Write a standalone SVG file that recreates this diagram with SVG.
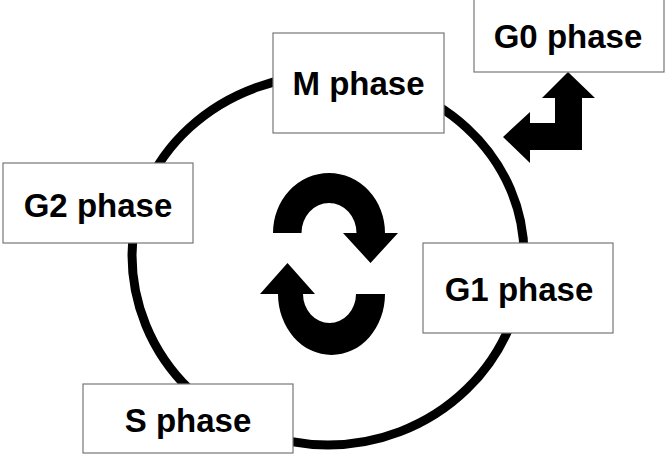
<svg xmlns="http://www.w3.org/2000/svg" width="667" height="458" viewBox="0 0 667 458">
<style>
.box{fill:#fff;stroke:#777;stroke-width:1.2}
.lbl{font-family:"Liberation Sans",Arial,Helvetica,sans-serif;font-weight:bold;font-size:33px;fill:#000;text-anchor:middle}
.ring{fill:none;stroke:#000;stroke-width:9}
.solid{fill:#000;stroke:none}
</style>
<rect width="667" height="458" fill="#fff"/>
<g id="connectors">
<path class="ring" d="M 132,255 A 196,180 0 0 1 524,255 A 196,190 0 0 1 132,255 Z"/>
<path class="solid" d="M 273,233 A 56,60 0 0 1 385,233 L 398,233 L 370.5,263 L 343,233 L 356.5,233 A 27.5,30 0 0 0 301.5,233 Z"/>
<path class="solid" d="M 385,294 A 53.5,61 0 0 1 278,294 L 260,294 L 287.5,263 L 315,294 L 303,294 A 26.5,29 0 0 0 356,294 Z"/>
<polygon class="solid" points="503,137 530,112 530,123 555,123 555,98 542,98 568,72 595,98 582,98 582,150 530,150 530,163"/>
</g>
<g id="m-phase">
<rect class="box" x="273" y="33" width="171" height="100"/>
<text class="lbl" x="358.5" y="95" font-size="32">M phase</text>
</g>
<g id="g0-phase">
<rect class="box" x="474" y="-1" width="190" height="73"/>
<text class="lbl" x="568" y="48">G0 phase</text>
</g>
<g id="g2-phase">
<rect class="box" x="3" y="163" width="190" height="80"/>
<text class="lbl" x="98" y="217">G2 phase</text>
</g>
<g id="g1-phase">
<rect class="box" x="423" y="243" width="190" height="90"/>
<text class="lbl" x="519" y="301">G1 phase</text>
</g>
<g id="s-phase">
<rect class="box" x="83" y="384" width="210" height="69"/>
<text class="lbl" x="188" y="432">S phase</text>
</g>
</svg>
